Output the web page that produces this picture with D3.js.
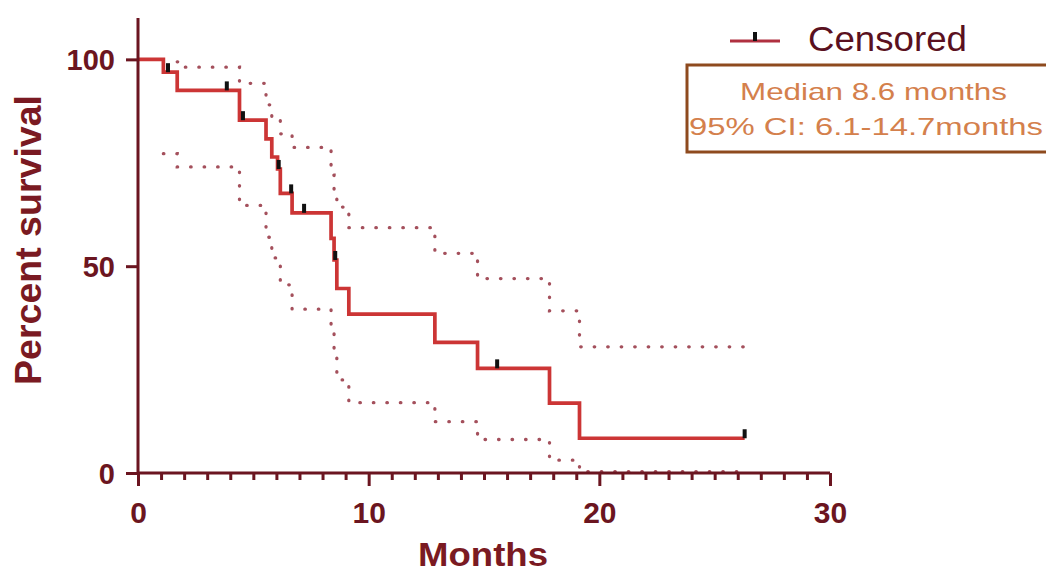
<!DOCTYPE html>
<html>
<head>
<meta charset="utf-8">
<script src="https://cdn.jsdelivr.net/npm/d3@7"></script>
<style>
  body { margin: 0; background: #fff; }
  svg { display: block; font-family: "Liberation Sans", Arial, sans-serif; }
</style>
</head>
<body>
<svg id="chart" width="1046" height="574"></svg>
<script>
// Kaplan-Meier survival curve (months, percent)
var kmTime = [0, 1.1, 1.7, 4.4, 5.55, 5.8, 6.05, 6.17, 6.68, 8.37, 8.5, 8.62, 9.14, 12.87, 14.72, 17.84, 19.14, 26.3];
var kmSurv = [100, 96.9, 92.5, 85.3, 80.8, 76.4, 73.5, 67.6, 62.9, 56.7, 51.5, 44.6, 38.4, 31.6, 25.3, 16.9, 8.4, 8.4];

// censored observations
var censorTime = [1.3, 3.85, 4.55, 6.1, 6.64, 7.2, 8.55, 15.57, 26.3];
var censorSurv = [96.9, 92.5, 85.3, 73.5, 67.6, 62.9, 51.5, 25.3, 8.4];

// 95% confidence band, lower and upper
var loTime = [1.1, 1.7, 4.4, 5.55, 5.8, 6.17, 6.68, 8.37, 8.5, 8.62, 9.14, 12.87, 14.72, 17.84, 19.14, 26.3];
var loVal  = [77.2, 74.0, 64.7, 57.0, 52.0, 45.5, 39.6, 34.0, 29.0, 22.5, 17.0, 12.4, 8.1, 3.1, 0.3, 0.3];
var hiTime = [1.7, 1.75, 4.4, 5.55, 5.8, 6.17, 6.68, 8.37, 8.5, 8.62, 9.14, 12.87, 14.72, 17.84, 19.14, 26.3];
var hiVal  = [99.4, 98.1, 94.2, 89.0, 86.0, 82.0, 78.7, 72.0, 67.0, 64.3, 59.3, 53.1, 47.0, 39.2, 30.5, 30.5];

var xTicks = [0, 10, 20, 30];
var yTicks = [0, 50, 100];

var axisCol = "#6b1520";
var svg = d3.select("#chart");

var x = d3.scaleLinear().domain([0, 30]).range([138, 830]);
var y = d3.scaleLinear().domain([0, 110]).range([473, 18]);

var stepLine = d3.line()
    .x(function(d) { return x(d[0]); })
    .y(function(d) { return y(d[1]); })
    .curve(d3.curveStepAfter);

function pairs(a, b) { return a.map(function(v, i) { return [v, b[i]]; }); }

// confidence bands (dotted)
[pairs(loTime, loVal), pairs(hiTime, hiVal)].forEach(function(band) {
  svg.append("path")
    .datum(band)
    .attr("d", stepLine)
    .attr("fill", "none")
    .attr("stroke", "#a4505c")
    .attr("stroke-width", 3.3)
    .attr("stroke-linecap", "round")
    .attr("stroke-dasharray", "0.5 13");
});

// survival curve
svg.append("path")
  .datum(pairs(kmTime, kmSurv))
  .attr("d", stepLine)
  .attr("fill", "none")
  .attr("stroke", "#cc3535")
  .attr("stroke-width", 3.7);

// censor marks
svg.selectAll("rect.censor")
  .data(pairs(censorTime, censorSurv))
  .enter().append("rect")
  .attr("class", "censor")
  .attr("x", function(d) { return x(d[0]) - 2; })
  .attr("y", function(d) { return y(d[1]) - 9; })
  .attr("width", 4)
  .attr("height", 9)
  .attr("fill", "#111");

// axes
var xAxis = svg.append("g").attr("transform", "translate(0,473)")
  .call(d3.axisBottom(x).tickValues(d3.range(0, 31)).tickSize(7).tickFormat(""));
xAxis.selectAll(".tick line").filter(function(d) { return xTicks.indexOf(d) >= 0; }).attr("y2", 13);
xAxis.selectAll(".tick")
  .filter(function(d) { return xTicks.indexOf(d) >= 0; })
  .append("text")
  .attr("y", 50)
  .attr("text-anchor", "middle")
  .attr("fill", axisCol)
  .style("font-size", "30px")
  .style("font-weight", "bold")
  .text(function(d) { return d; });

var yAxis = svg.append("g").attr("transform", "translate(138,0)")
  .call(d3.axisLeft(y).tickValues(yTicks).tickSize(12).tickFormat(""));
yAxis.selectAll(".tick")
  .append("text")
  .attr("x", -23)
  .attr("dy", "0.36em")
  .attr("text-anchor", "end")
  .attr("fill", axisCol)
  .style("font-size", "29px")
  .style("font-weight", "bold")
  .text(function(d) { return d; });

svg.selectAll(".domain, .tick line")
  .attr("stroke", axisCol)
  .attr("stroke-width", 3);
xAxis.select(".domain").attr("d", "M138,0H830");
yAxis.select(".domain").attr("d", "M0,18V473");

// axis titles
svg.append("text")
  .attr("transform", "translate(41,240) rotate(-90)")
  .attr("text-anchor", "middle")
  .attr("fill", "#7a1a22")
  .attr("textLength", 290)
  .attr("lengthAdjust", "spacingAndGlyphs")
  .style("font-size", "36px")
  .style("font-weight", "bold")
  .text("Percent survival");

svg.append("text")
  .attr("x", 483).attr("y", 566)
  .attr("text-anchor", "middle")
  .attr("fill", "#7a1a22")
  .attr("textLength", 130)
  .attr("lengthAdjust", "spacingAndGlyphs")
  .style("font-size", "34px")
  .style("font-weight", "bold")
  .text("Months");

// legend
svg.append("line")
  .attr("x1", 730).attr("x2", 780).attr("y1", 41).attr("y2", 41)
  .attr("stroke", "#b03040").attr("stroke-width", 3);
svg.append("rect")
  .attr("x", 753).attr("y", 32).attr("width", 4).attr("height", 9)
  .attr("fill", "#111");
svg.append("text")
  .attr("x", 808).attr("y", 51)
  .attr("fill", "#5a1020")
  .attr("textLength", 159)
  .attr("lengthAdjust", "spacingAndGlyphs")
  .style("font-size", "35px")
  .text("Censored");

svg.append("rect")
  .attr("x", 687).attr("y", 65).attr("width", 362).attr("height", 87)
  .attr("fill", "none")
  .attr("stroke", "#8e4a1e")
  .attr("stroke-width", 3);
svg.append("text")
  .attr("x", 740).attr("y", 100)
  .attr("fill", "#d4804c")
  .attr("textLength", 267)
  .attr("lengthAdjust", "spacingAndGlyphs")
  .style("font-size", "24px")
  .text("Median 8.6 months");
svg.append("text")
  .attr("x", 689).attr("y", 135)
  .attr("fill", "#d4804c")
  .attr("textLength", 354)
  .attr("lengthAdjust", "spacingAndGlyphs")
  .style("font-size", "24px")
  .text("95% CI: 6.1-14.7months");
</script>
</body>
</html>
